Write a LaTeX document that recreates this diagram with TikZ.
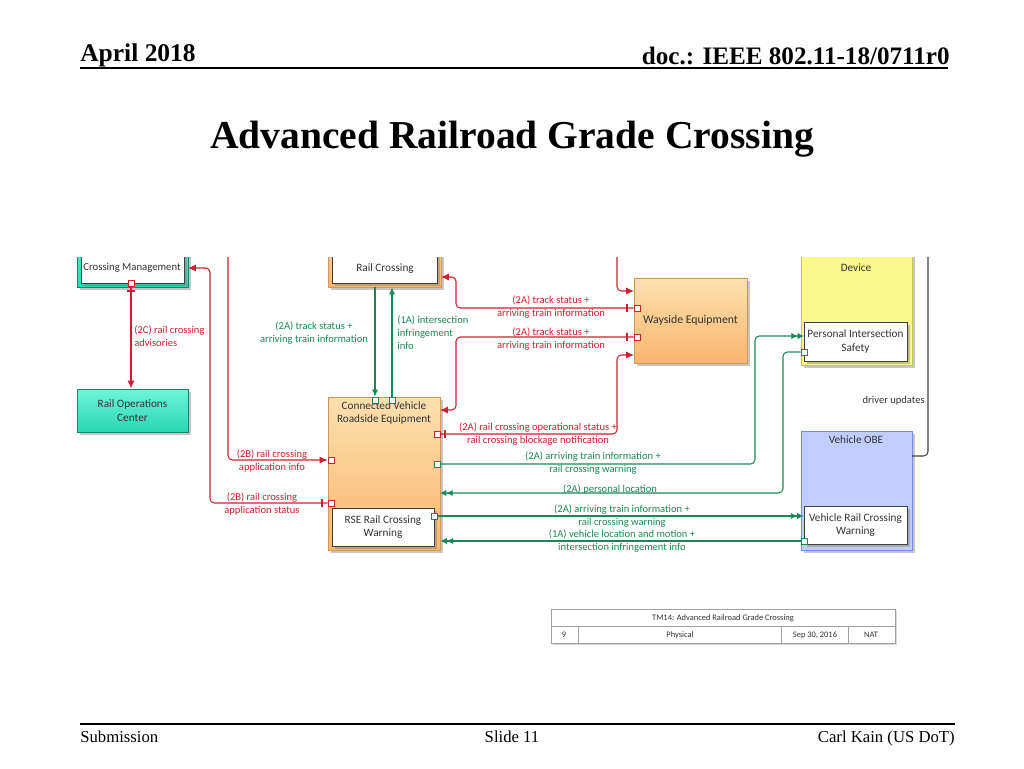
\documentclass[tikz,border=0pt]{standalone}
\usepackage{fontspec}
\setmainfont{Liberation Serif}
\newfontfamily\diafont{Carlito}
\usetikzlibrary{arrows.meta,fit,shadows}
\definecolor{railred}{RGB}{206,32,46}
\definecolor{flowgreen}{RGB}{26,136,86}
\definecolor{tealtop}{RGB}{110,246,218}
\definecolor{tealbot}{RGB}{40,214,178}
\definecolor{tealedge}{RGB}{20,130,112}
\definecolor{orangetop}{RGB}{253,224,176}
\definecolor{orangebot}{RGB}{248,182,108}
\definecolor{orangeedge}{RGB}{212,150,84}
\definecolor{devfill}{RGB}{250,250,140}
\definecolor{devedge}{RGB}{196,196,90}
\definecolor{obefill}{RGB}{192,206,255}
\definecolor{obeedge}{RGB}{118,138,224}
\definecolor{tabedge}{RGB}{160,160,160}
\begin{document}
\begin{tikzpicture}[x=0.02cm, y=-0.02cm,
  every node/.style={inner sep=0pt},
  box/.style={draw, line width=0.5pt, drop shadow={shadow xshift=1.5pt, shadow yshift=-1.5pt, opacity=0.45}},
  tealbox/.style={box, draw=tealedge, top color=tealtop, bottom color=tealbot},
  orangebox/.style={box, draw=orangeedge, top color=orangetop, bottom color=orangebot},
  yellowbox/.style={box, draw=devedge, fill=devfill},
  bluebox/.style={box, draw=obeedge, fill=obefill},
  whitebox/.style={box, draw=black!75, fill=white},
  boxtext/.style={font=\diafont\fontsize{6.4}{7.6}\selectfont, text=black!80, align=center},
  redlabel/.style={font=\diafont\fontsize{6}{7.4}\selectfont, text=railred, align=center},
  greenlabel/.style={font=\diafont\fontsize{6}{7.4}\selectfont, text=flowgreen, align=center},
  rport/.style={draw=railred, fill=white, line width=0.5pt, minimum size=3.4pt},
  gport/.style={draw=flowgreen, fill=white, line width=0.5pt, minimum size=3.4pt},
  portbar/.style={draw=railred, line width=0.6pt},
  redflow/.style={draw=railred, line width=0.6pt, rounded corners=2.5pt, -{Latex[length=4.5pt,width=4pt]}},
  gflow/.style={draw=flowgreen, line width=0.6pt, rounded corners=2.5pt, -{Latex[length=4pt,width=3.6pt]}},
  gflowdbl/.style={gflow, -{Latex[length=3.6pt,width=3.6pt]Latex[length=3.6pt,width=3.6pt]}},
  darkflow/.style={draw=black!75, line width=0.6pt, rounded corners=2.5pt},
  tabtext/.style={font=\diafont\fontsize{4.8}{6}\selectfont, text=black!80}]
\useasboundingbox (0,0) rectangle (1024,768);

\node[anchor=base west, font=\bfseries\fontsize{14.5}{16}\selectfont] (date) at (80,61) {April 2018};
\node[anchor=base east, font=\bfseries\fontsize{14.3}{16}\selectfont] (docno) at (950,64) {doc.: IEEE 802.11-18/0711r0};
\draw[line width=1.2pt] (80,68) -- (948,68);
\node[anchor=base, font=\bfseries\fontsize{22.5}{26}\selectfont] (title) at (512,148) {Advanced Railroad Grade Crossing};

\begin{scope}
\clip (60,257) rectangle (960,570);
\node[tealbox, fit={(77,225) (188,287)}] (tms) {};
\node[whitebox, fit={(81,225) (184,283)}] (tmsin) {};
\node[boxtext, font=\diafont\fontsize{6.1}{7.6}\selectfont] (tmslbl) at (132,268) {Crossing Management};
\node[tealbox, fit={(77,389) (188,432)}] (roc) {};
\node[boxtext] (roclbl) at (roc.center) {Rail Operations\\Center};

\node[orangebox, fit={(328,225) (441,287)}] (road) {};
\node[whitebox, fit={(332,225) (437,283)}] (roadin) {};
\node[boxtext] (roadlbl) at (385,269) {Rail Crossing};
\node[orangebox, fit={(634,278) (747,363)}] (way) {};
\node[boxtext, font=\diafont\fontsize{6.7}{7.6}\selectfont] (waylbl) at (way.center) {Wayside Equipment};
\node[orangebox, fit={(328,397) (440,550)}] (cvrse) {};
\node[boxtext, anchor=north] (cvlbl) at (384,401) {Connected Vehicle\\Roadside Equipment};
\node[whitebox, fit={(332,508) (434,546)}] (rsew) {};
\node[boxtext] (rselbl) at (rsew.center) {RSE Rail Crossing\\Warning};

\node[yellowbox, fit={(801,225) (912,365)}] (dev) {};
\node[boxtext] (devlbl) at (856,268) {Device};
\node[whitebox, fit={(804,322) (907,361)}] (pis) {};
\node[boxtext] (pislbl) at (pis.center) {Personal Intersection\\Safety};
\node[bluebox, fit={(801,431) (912,550)}] (obe) {};
\node[boxtext] (obelbl) at (856,440) {Vehicle OBE};
\node[whitebox, fit={(804,506) (907,544)}] (vrcw) {};
\node[boxtext] (vrcwlbl) at (vrcw.center) {Vehicle Rail Crossing\\Warning};

\coordinate (tms-in) at (188,268);
\coordinate (road-in) at (441,277);
\coordinate (cv-in1) at (440,410);
\coordinate (cv-in2) at (440,493);
\coordinate (way-in1) at (634,291);
\coordinate (way-in2) at (634,355);
\coordinate (pis-in) at (804,336);
\coordinate (obe-out) at (912,456);

\node[rport] (tms-p) at (131,283) {};
\node[rport] (cv-pl1) at (331,460) {};
\node[rport] (cv-pl2) at (331,503) {};
\node[rport] (cv-pr1) at (437,434) {};
\node[rport] (way-p1) at (637,308) {};
\node[rport] (way-p2) at (637,337) {};
\node[gport] (cv-pt1) at (375,400) {};
\node[gport] (cv-pt2) at (392,400) {};
\node[gport] (cv-pr2) at (437,464) {};
\node[gport] (rse-p) at (434,516) {};
\node[gport] (pis-p) at (804,352) {};
\node[gport] (vrcw-p) at (804,541) {};

\draw[redflow] (tms-p) -- (tms-p |- roc.north);
\draw[redflow] (cv-pl2) -- (210,503) -- (210,268) -- (tms-in);
\draw[redflow] (228,240) -- (228,460) -- (cv-pl1);
\draw[redflow] (way-p1) -- (456,308) -- (456,277) -- (road-in);
\draw[redflow] (way-p2) -- (456,337) -- (456,410) -- (cv-in1);
\draw[redflow] (cv-pr1) -- (617,434) -- (617,355) -- (way-in2);
\draw[redflow] (617,240) -- (617,291) -- (way-in1);
\draw[portbar] (127,291) -- (135,291);
\draw[portbar] (322,499) -- (322,507);
\draw[portbar] (627,304) -- (627,312);
\draw[portbar] (627,333) -- (627,341);
\draw[portbar] (445,430) -- (445,438);

\draw[gflow] (cv-pt1 |- road.south) -- (cv-pt1);
\draw[gflow] (cv-pt2) -- (cv-pt2 |- road.south);
\draw[gflowdbl] (cv-pr2) -- (755,464) -- (755,336) -- (pis-in);
\draw[gflowdbl] (pis-p) -- (783,352) -- (783,493) -- (cv-in2);
\draw[gflowdbl] (rse-p) -- (vrcw.west |- rse-p);
\draw[gflowdbl] (vrcw-p) -- (cvrse.east |- vrcw-p);
\draw[darkflow] (obe-out) -- (928,456) -- (928,240);

\node[redlabel, anchor=west, align=left] (l2c) at (134,336.5) {(2C) rail crossing\\advisories};
\node[greenlabel] (l2a-ts) at (314,333.5) {(2A) track status +\\arriving train information};
\node[greenlabel, anchor=west, align=left] (l1a-ii) at (397,333) {(1A) intersection\\infringement\\info};
\node[redlabel] (l2a-ts1) at (551,307.5) {(2A) track status +\\arriving train information};
\node[redlabel] (l2a-ts2) at (551,339.5) {(2A) track status +\\arriving train information};
\node[redlabel] (l2a-op) at (538,434.5) {(2A) rail crossing operational status +\\rail crossing blockage notification};
\node[redlabel] (l2b-info) at (272,460.5) {(2B) rail crossing\\application info};
\node[redlabel] (l2b-stat) at (262,503.5) {(2B) rail crossing\\application status};
\node[greenlabel] (l2a-at1) at (593,463.5) {(2A) arriving train information +\\rail crossing warning};
\node[greenlabel] (l2a-pl) at (610,489) {(2A) personal location};
\node[greenlabel] (l2a-at2) at (622,516) {(2A) arriving train information +\\rail crossing warning};
\node[greenlabel] (l1a-vl) at (622,541.5) {(1A) vehicle location and motion +\\intersection infringement info};
\node[font=\diafont\fontsize{6}{7.4}\selectfont, text=black!80, anchor=east] (ldrv) at (925,401) {driver updates};
\end{scope}

\node[draw=tabedge, fill=white, line width=0.5pt, drop shadow={shadow xshift=1.2pt, shadow yshift=-1.2pt, opacity=0.3}, fit={(551,609) (895,643)}] (tab) {};
\draw[tabedge, line width=0.5pt] (551,626) -- (895,626) (578,626) -- (578,643) (781,626) -- (781,643) (848,626) -- (848,643);
\node[tabtext] (tabhead) at (723,618) {TM14: Advanced Railroad Grade Crossing};
\node[tabtext] (tabnum) at (564,635) {9};
\node[tabtext] (tabview) at (680,635) {Physical};
\node[tabtext] (tabdate) at (815,635) {Sep 30, 2016};
\node[tabtext] (taborg) at (871,635) {NAT};

\draw[line width=0.8pt] (80,724) -- (955,724);
\node[anchor=base west, font=\fontsize{9.5}{11}\selectfont] (sub) at (80,742) {Submission};
\node[anchor=base, font=\fontsize{9.5}{11}\selectfont] (slide) at (512,742) {Slide 11};
\node[anchor=base east, font=\fontsize{9.5}{11}\selectfont] (author) at (955,742) {Carl Kain (US DoT)};
\end{tikzpicture}
\end{document}
